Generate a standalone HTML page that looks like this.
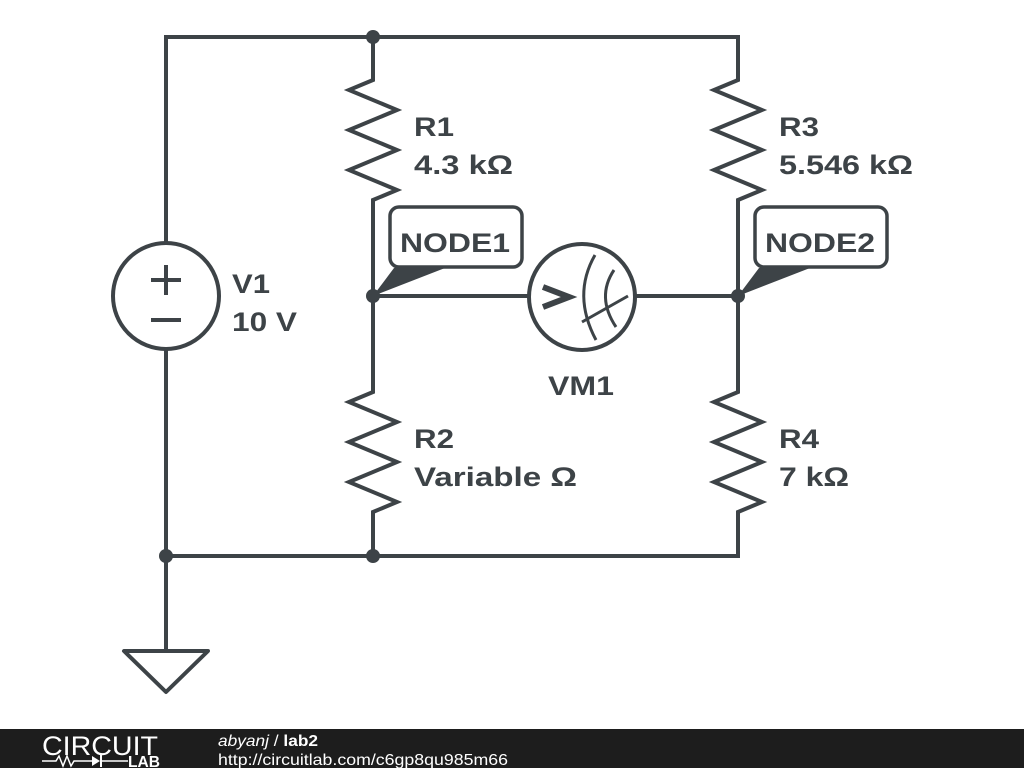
<!DOCTYPE html>
<html><head><style>
body{margin:0;width:1024px;height:768px;background:#fff;overflow:hidden}
text{font-family:"Liberation Sans",sans-serif;font-weight:bold;fill:#3d4347}
</style></head><body>
<svg width="1024" height="768" viewBox="0 0 1024 768">
<g stroke="#3d4347" stroke-width="4" fill="none" stroke-linejoin="miter">
<polyline points="166,243 166,37 738,37 738,78"/>
<polyline points="166,349 166,556 738,556 738,514"/>
<line x1="166" y1="556" x2="166" y2="651"/>
<polygon points="124,651 208,651 166,692" stroke-linejoin="round"/>
<polyline points="373,37 373,80 349,90 397,110 349,130 397,150 349,170 397,190 373,200 373,392 349,402 397,422 349,442 397,462 349,482 397,502 373,512 373,556"/>
<polyline points="738,37 738,80 714,90 762,110 714,130 762,150 714,170 762,190 738,200 738,392 714,402 762,422 714,442 762,462 714,482 762,502 738,512 738,556"/>
<line x1="373" y1="296" x2="529" y2="296"/>
<line x1="635" y1="296" x2="738" y2="296"/>
<circle cx="166" cy="296" r="53"/>
<line x1="151" y1="280" x2="181" y2="280"/><line x1="166" y1="265" x2="166" y2="295"/>
<line x1="151" y1="320" x2="181" y2="320"/>
<circle cx="582" cy="297" r="53"/>
<path d="M595,255 Q572,295 596,340" stroke-width="3"/>
<path d="M614,270 Q596,297 616,327" stroke-width="3"/>
<line x1="582" y1="322" x2="628" y2="296" stroke-width="3"/>
<polyline points="543,287 569,297 543,307" stroke-width="6"/>
<rect x="390" y="207" width="132" height="60" rx="9" stroke-width="3.5"/>
<rect x="755" y="207" width="132" height="60" rx="9" stroke-width="3.5"/>
</g>
<g fill="#3d4347">
<polygon points="373,296 394,268 445,268"/>
<polygon points="738,296 759,268 810,268"/>
<circle cx="373" cy="37" r="7"/><circle cx="373" cy="296" r="7"/><circle cx="738" cy="296" r="7"/>
<circle cx="166" cy="556" r="7"/><circle cx="373" cy="556" r="7"/>
</g>
<g font-size="27">
<text x="232" y="293" textLength="38" lengthAdjust="spacingAndGlyphs">V1</text>
<text x="232" y="331" textLength="65" lengthAdjust="spacingAndGlyphs">10 V</text>
<text x="414" y="136" textLength="40" lengthAdjust="spacingAndGlyphs">R1</text>
<text x="414" y="174" textLength="99" lengthAdjust="spacingAndGlyphs">4.3 kΩ</text>
<text x="414" y="448" textLength="40" lengthAdjust="spacingAndGlyphs">R2</text>
<text x="414" y="486" textLength="163" lengthAdjust="spacingAndGlyphs">Variable Ω</text>
<text x="779" y="136" textLength="40" lengthAdjust="spacingAndGlyphs">R3</text>
<text x="779" y="174" textLength="134" lengthAdjust="spacingAndGlyphs">5.546 kΩ</text>
<text x="779" y="448" textLength="40" lengthAdjust="spacingAndGlyphs">R4</text>
<text x="779" y="486" textLength="70" lengthAdjust="spacingAndGlyphs">7 kΩ</text>
<text x="548" y="395" textLength="66" lengthAdjust="spacingAndGlyphs">VM1</text>
<text x="400" y="252" textLength="110" lengthAdjust="spacingAndGlyphs">NODE1</text>
<text x="765" y="252" textLength="110" lengthAdjust="spacingAndGlyphs">NODE2</text>
</g>
<rect x="0" y="729" width="1024" height="39" fill="#1d1d1d"/>
<text x="42" y="755" font-size="27" textLength="116" lengthAdjust="spacingAndGlyphs" style="font-weight:normal;fill:#fff">CIRCUIT</text>
<polyline points="42,761 56,761 59,756 63,766 67,756 71,766 74,761 92,761" stroke="#fff" stroke-width="1.5" fill="none"/>
<polygon points="92,756 92,766 100,761" fill="#fff"/><line x1="101" y1="755" x2="101" y2="767" stroke="#fff" stroke-width="2"/>
<line x1="101" y1="761" x2="128" y2="761" stroke="#fff" stroke-width="1.5"/>
<text x="128" y="767" font-size="16" textLength="32" lengthAdjust="spacingAndGlyphs" style="fill:#fff">LAB</text>
<text x="218" y="746" font-size="16" textLength="100" lengthAdjust="spacingAndGlyphs" style="font-weight:normal;font-style:italic;fill:#fff">abyanj <tspan font-style="normal">/</tspan> <tspan font-weight="bold" font-style="normal">lab2</tspan></text>
<text x="218" y="765" font-size="16" textLength="290" lengthAdjust="spacingAndGlyphs" style="font-weight:normal;fill:#fff">http://circuitlab.com/c6gp8qu985m66</text>
</svg>
</body></html>
